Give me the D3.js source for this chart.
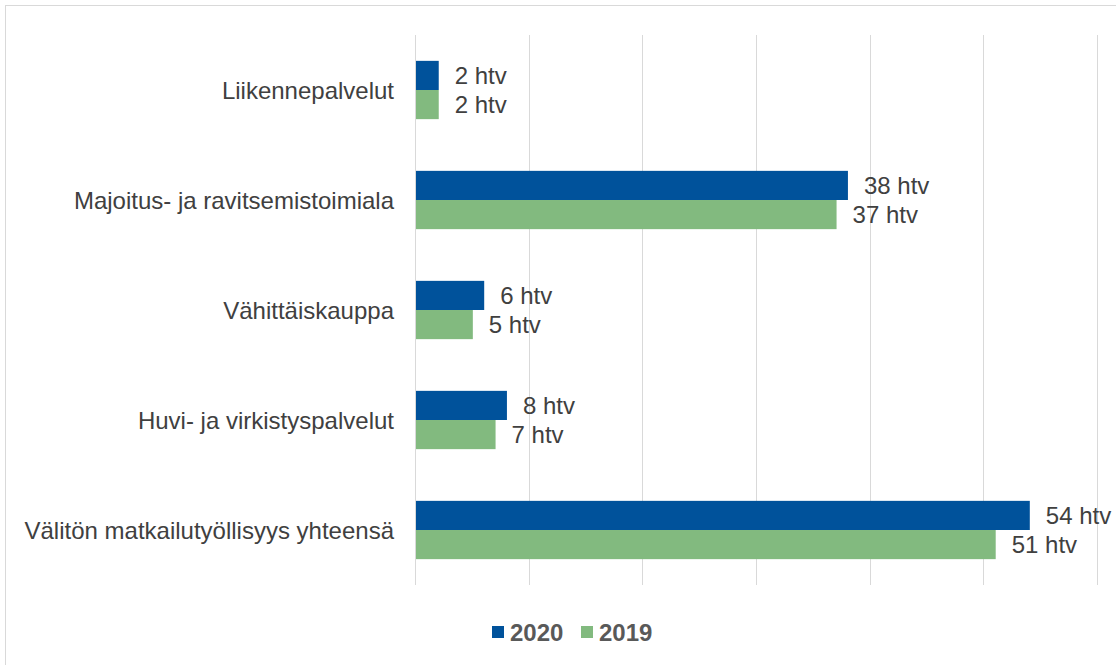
<!DOCTYPE html>
<html>
<head>
<meta charset="utf-8">
<script src="https://cdn.jsdelivr.net/npm/d3@7"></script>
<style>
  body { margin: 0; background: #fff; }
  text { font-family: "Liberation Sans", Arial, sans-serif; }
</style>
</head>
<body>
<script>
const categories = [
  "Liikennepalvelut",
  "Majoitus- ja ravitsemistoimiala",
  "Vähittäiskauppa",
  "Huvi- ja virkistyspalvelut",
  "Välitön matkailutyöllisyys yhteensä"
];
const series = ["2020", "2019"];
const values2020 = [2, 38, 6, 8, 54];
const values2019 = [2, 37, 5, 7, 51];
const xTicks = [0, 10, 20, 30, 40, 50, 60];

const colors = { "2020": "#00529b", "2019": "#82ba7f" };

const width = 1116, height = 665;
const margin = { top: 35, right: 19, bottom: 80, left: 415 };

const svg = d3.select('body').append('svg')
  .attr('width', width)
  .attr('height', height);

// outer chart border
svg.append('rect')
  .attr('x', 5.5).attr('y', 5.5)
  .attr('width', width + 10).attr('height', height + 10)
  .attr('fill', 'none')
  .attr('stroke', '#d9d9d9');

const x = d3.scaleLinear()
  .domain([0, 60])
  .range([margin.left, width - margin.right]);

const y = d3.scaleBand()
  .domain(categories)
  .range([margin.top, height - margin.bottom])
  .paddingInner(0.47)
  .paddingOuter(0.235);

const ySub = d3.scaleBand()
  .domain(series)
  .range([0, y.bandwidth()]);

// gridlines
svg.append('g')
  .selectAll('line')
  .data(xTicks)
  .join('line')
  .attr('x1', d => Math.round(x(d)) + 0.5)
  .attr('x2', d => Math.round(x(d)) + 0.5)
  .attr('y1', margin.top)
  .attr('y2', height - margin.bottom)
  .attr('stroke', '#d9d9d9')
  .attr('stroke-width', 1);

const rows = categories.map((c, i) => ({ cat: c, "2020": values2020[i], "2019": values2019[i] }));

const groups = svg.append('g')
  .selectAll('g')
  .data(rows)
  .join('g')
  .attr('transform', d => `translate(0, ${y(d.cat)})`);

groups.selectAll('rect')
  .data(d => series.map(s => ({ s, v: d[s] })))
  .join('rect')
  .attr('x', x(0) + 1)
  .attr('y', d => ySub(d.s))
  .attr('width', d => x(d.v) - x(0))
  .attr('height', ySub.bandwidth())
  .attr('fill', d => colors[d.s]);

groups.selectAll('text.lbl')
  .data(d => series.map(s => ({ s, v: d[s] })))
  .join('text')
  .attr('class', 'lbl')
  .attr('x', d => x(d.v) + 17)
  .attr('y', d => ySub(d.s) + ySub.bandwidth() / 2)
  .attr('dy', '0.36em')
  .attr('font-size', 24)
  .attr('fill', '#404040')
  .text(d => `${d.v} htv`);

// category labels
svg.append('g')
  .selectAll('text')
  .data(categories)
  .join('text')
  .attr('x', margin.left - 21)
  .attr('y', d => y(d) + y.bandwidth() / 2)
  .attr('dy', '0.36em')
  .attr('text-anchor', 'end')
  .attr('font-size', 24)
  .attr('fill', '#404040')
  .text(d => d);

// legend
const legend = svg.append('g').attr('transform', 'translate(492, 632)');
const legendX = [0, 89];
series.forEach((s, i) => {
  const g = legend.append('g').attr('transform', `translate(${legendX[i]}, 0)`);
  g.append('rect')
    .attr('x', 0).attr('y', -6)
    .attr('width', 12).attr('height', 12)
    .attr('fill', colors[s]);
  g.append('text')
    .attr('x', 18).attr('y', 0)
    .attr('dy', '0.36em')
    .attr('font-size', 24)
    .attr('font-weight', 'bold')
    .attr('fill', '#595959')
    .text(s);
});
</script>
</body>
</html>
